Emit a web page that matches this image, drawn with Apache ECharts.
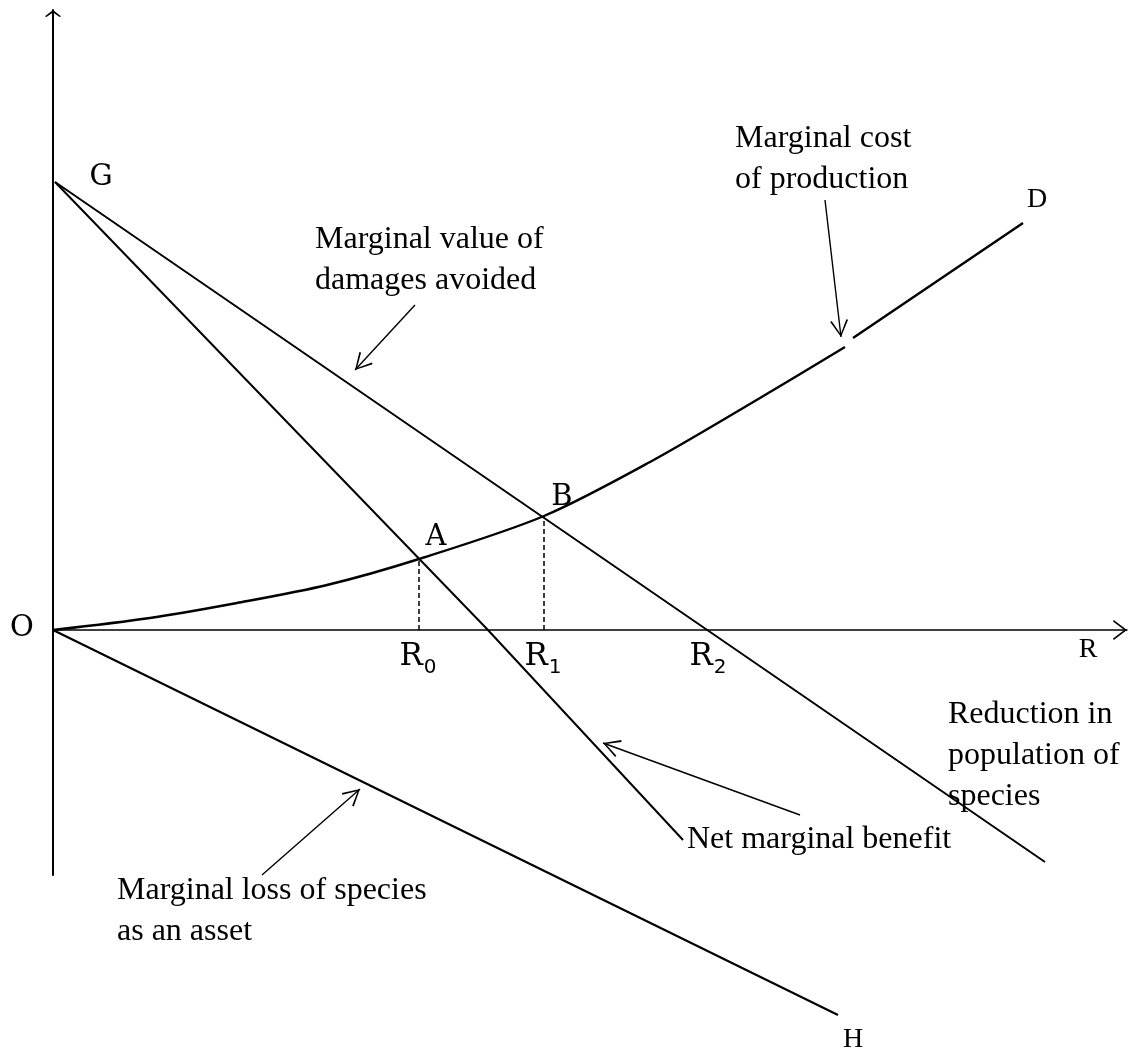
<!DOCTYPE html>
<html>
<head>
<meta charset="utf-8">
<title>Reduction in population of species</title>
<script src="https://cdn.jsdelivr.net/npm/echarts@6/dist/echarts.min.js"></script>
<style>
  html, body { margin: 0; padding: 0; background: #fff; }
  #chart { width: 1129px; height: 1056px; }
</style>
</head>
<body>
<div id="chart"></div>
<script>
  // values: x = reduction R from O, y = value (up)
  var netBenefit = [[2, 448], [434, 1], [630, -210]];
  var damagesAvoided = [[2, 448], [992, -232]];
  // the drawn cost curve has a small break where the pointer touches it
  var costOfProduction = [[0, 0], [97, 12], [184, 27], [274, 45], [366, 71], [491, 114],
    [597, 168], [707, 232], [792, 283], null, [800, 292], [970, 407]];
  var lossAsAsset = [[0, 0], [785, -385]];
  var pointA = costOfProduction[4];
  var pointB = costOfProduction[5];

  // letters of the diagram
  var letters = [
    { text: 'O', at: [-31, 2], font: 'bookish' },
    { text: 'G', at: [48, 453], font: 'bookish' },
    { text: 'A', at: [383, 93], font: 'bookish' },
    { text: 'B', at: [509, 133], font: 'bookish' },
    { text: '{r|R}{s|0}', at: [365, -27], font: 'bookish' },
    { text: '{r|R}{s|1}', at: [490, -27], font: 'bookish' },
    { text: '{r|R}{s|2}', at: [655, -27], font: 'bookish' },
    { text: 'R', at: [1035, -20], font: 'times' },
    { text: 'D', at: [984, 430], font: 'times' },
    { text: 'H', at: [800, -410], font: 'times' }
  ];

  // text boxes, anchored at their left edge, middle
  var notes = [
    { text: 'Marginal cost\nof production', at: [682, 471] },
    { text: 'Marginal value of\ndamages avoided', at: [262, 370] },
    { text: 'Net marginal benefit', at: [634, -210] },
    { text: 'Reduction in\npopulation of\nspecies', at: [895, -126] },
    { text: 'Marginal loss of species\nas an asset', at: [64, -281] }
  ];

  // pointers from the text boxes to the curves [from, to]
  var pointers = [
    [[772, 430], [788, 293]],
    [[362, 325], [302, 260]],
    [[747, -185], [550, -113]],
    [[209, -245], [307, -159]]
  ];

  // open "V" arrow head in a square box; the tip sits in the middle of the box
  // so it lands on the end point. hw = half width, len = length, t = stroke
  function chevron(hw, len, t) {
    var s = 2 * Math.max(hw, len);
    var c = s / 2;
    return 'path://M' + c + ',' + c +
      ' L' + (c + hw) + ',' + (c + len - t * 0.5) + ' L' + (c + hw - t) + ',' + (c + len) +
      ' L' + c + ',' + (c + t * 1.8) +
      ' L' + (c - hw + t) + ',' + (c + len) + ' L' + (c - hw) + ',' + (c + len - t * 0.5) + ' Z' +
      ' M0,0 L0.01,0 Z M' + s + ',' + s + ' L' + (s - 0.01) + ',' + s + ' Z';
  }

  var ink = '#000';
  var chart = echarts.init(document.getElementById('chart'));

  function curve(name, data, width) {
    return {
      name: name,
      type: 'line',
      data: data,
      showSymbol: false,
      clip: false,
      silent: true,
      lineStyle: { color: ink, width: width || 2 }
    };
  }

  var option = {
    animation: false,
    backgroundColor: '#fff',
    grid: { left: 53, right: 2, top: 10, bottom: 181 },
    xAxis: {
      type: 'value',
      min: 0,
      max: 1074,
      axisLine: {
        onZero: true,
        symbol: ['none', chevron(10, 14, 1.5)],
        symbolSize: [28, 28],
        lineStyle: { color: ink, width: 1.5 }
      },
      axisTick: { show: false },
      axisLabel: { show: false },
      splitLine: { show: false }
    },
    yAxis: {
      type: 'value',
      min: -245,
      max: 620,
      axisLine: {
        show: true,
        symbol: ['none', chevron(8, 7, 1.4)],
        symbolSize: [16, 16],
        lineStyle: { color: ink, width: 2 }
      },
      axisTick: { show: false },
      axisLabel: { show: false },
      splitLine: { show: false }
    },
    series: [
      curve('Net marginal benefit', netBenefit, 2),
      curve('Marginal value of damages avoided', damagesAvoided, 2),
      Object.assign(curve('Marginal cost of production', costOfProduction, 2.4), { smooth: 0.3 }),
      curve('Marginal loss of species as an asset', lossAsAsset, 2.2),
      {
        type: 'line',
        data: [[pointA[0], 0], pointA],
        showSymbol: false,
        silent: true,
        lineStyle: { color: ink, width: 1.5, type: [5, 3] }
      },
      {
        type: 'line',
        data: [[pointB[0], 0], pointB],
        showSymbol: false,
        silent: true,
        lineStyle: { color: ink, width: 1.5, type: [5, 3] }
      },
      {
        type: 'lines',
        coordinateSystem: 'cartesian2d',
        clip: false,
        silent: true,
        symbol: ['none', chevron(9, 17, 1.6)],
        symbolSize: 34,
        lineStyle: { color: ink, width: 1.4, opacity: 1 },
        data: pointers.map(function (p) { return { coords: p }; })
      },
      {
        type: 'scatter',
        clip: false,
        silent: true,
        symbolSize: 0,
        itemStyle: { opacity: 1 },
        data: letters.map(function (d) {
          var bookish = d.font === 'bookish';
          return {
            value: d.at,
            label: {
              show: true,
              position: 'inside',
              formatter: d.text,
              color: ink,
              opacity: 1,
              fontFamily: bookish ? 'DejaVu Serif' : 'Liberation Serif',
              fontSize: bookish ? 29 : 28,
              rich: {
                r: { fontFamily: 'DejaVu Serif', fontSize: 31, lineHeight: 44, color: ink },
                s: { fontFamily: 'DejaVu Sans', fontSize: 20, lineHeight: 22, padding: [22, 0, 0, 1], color: ink }
              }
            }
          };
        })
      },
      {
        type: 'scatter',
        clip: false,
        silent: true,
        symbolSize: 0,
        itemStyle: { opacity: 1 },
        data: notes.map(function (d) {
          return {
            value: d.at,
            label: {
              show: true,
              position: 'right',
              distance: 0,
              align: 'left',
              formatter: d.text,
              color: ink,
              opacity: 1,
              fontFamily: 'Liberation Serif',
              fontSize: 32,
              lineHeight: 41
            }
          };
        })
      }
    ]
  };

  chart.setOption(option);
</script>
</body>
</html>
